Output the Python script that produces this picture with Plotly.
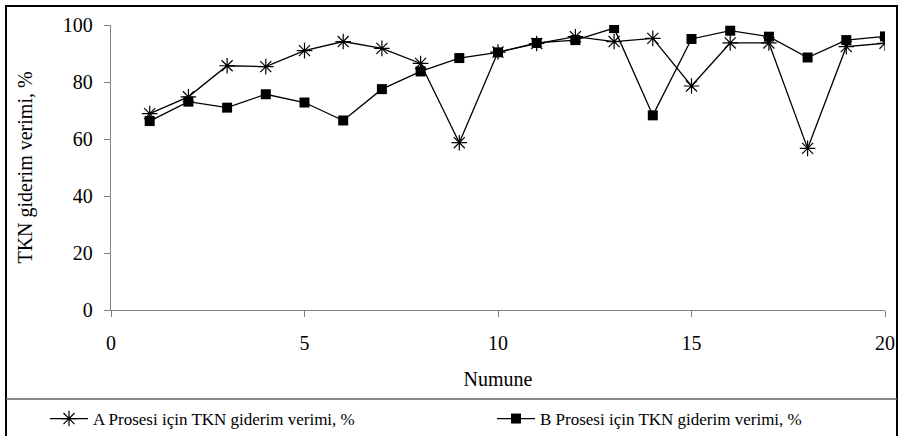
import plotly.graph_objects as go

numune = list(range(1, 21))
proses_a = [68.9, 74.8, 85.7, 85.4, 91.0, 94.2, 91.8, 86.5, 58.7, 90.5,
            93.5, 95.9, 94.2, 95.3, 78.6, 93.7, 93.7, 56.7, 92.4, 93.6]
proses_b = [66.3, 73.1, 71.0, 75.7, 72.8, 66.5, 77.5, 83.7, 88.4, 90.4,
            93.7, 94.7, 98.9, 68.3, 95.1, 98.0, 95.9, 88.6, 94.7, 96.0]
name_a = "A Prosesi için TKN giderim verimi, %"
name_b = "B Prosesi için TKN giderim verimi, %"
x_title = "Numune"
y_title = "TKN giderim verimi, %"

W, H = 900, 436
L, R, T, B = 111, 15, 25, 126
pw, ph = W - L - R, H - T - B


def px(x):
    return (x - L) / pw


def py(y):
    return (H - B - y) / ph


FONT = "Liberation Serif, Times New Roman, serif"

fig = go.Figure()
fig.add_trace(go.Scatter(
    x=numune, y=proses_a, name=name_a, mode="lines+markers", legend="legend",
    line=dict(color="black", width=1.3),
    marker=dict(symbol="asterisk-open", size=13, color="black",
                line=dict(color="black", width=1.2)),
))
fig.add_trace(go.Scatter(
    x=numune, y=proses_b, name=name_b, mode="lines+markers", legend="legend2",
    line=dict(color="black", width=1.3),
    marker=dict(symbol="square", size=10, color="black"),
))

axis_common = dict(
    showline=True, linecolor="#808080", linewidth=1.3,
    ticks="outside", ticklen=6, tickcolor="#808080", tickwidth=1.3,
    showgrid=False, zeroline=False,
    tickfont=dict(family=FONT, size=20, color="black"),
)
fig.update_xaxes(range=[0, 20], dtick=5, tick0=0, **axis_common,
                 ticklabelstandoff=9,
                 title=dict(text=x_title, font=dict(family=FONT, size=20, color="black"),
                            standoff=18))
fig.update_yaxes(range=[0, 100], dtick=20, tick0=0, **axis_common,
                 ticklabelstandoff=7,
                 title=dict(text=y_title, font=dict(family=FONT, size=20, color="black"),
                            standoff=24))

shapes = [
    dict(type="rect", xref="paper", yref="paper",
         x0=px(6), x1=px(897), y0=py(437), y1=py(6),
         line=dict(color="black", width=2)),
    dict(type="line", xref="paper", yref="paper",
         x0=px(6), x1=px(897), y0=py(399), y1=py(399),
         line=dict(color="#606060", width=1.3)),
]

leg_common = dict(orientation="h", yanchor="middle", xanchor="left",
                  font=dict(family=FONT, size=17, color="black"),
                  itemwidth=38,
                  bgcolor="rgba(0,0,0,0)", itemclick=False)

fig.update_layout(
    width=W, height=H,
    font=dict(family=FONT, size=20, color="black"),
    margin=dict(l=L, r=R, t=T, b=B, autoexpand=False),
    paper_bgcolor="white", plot_bgcolor="white",
    shapes=shapes,
    showlegend=True,
    legend=dict(x=px(45), y=py(419), **leg_common),
    legend2=dict(x=px(492), y=py(419), **leg_common),
)

fig.write_html("out.html", config={"displayModeBar": False},
               post_script="document.body.style.margin='0';")
